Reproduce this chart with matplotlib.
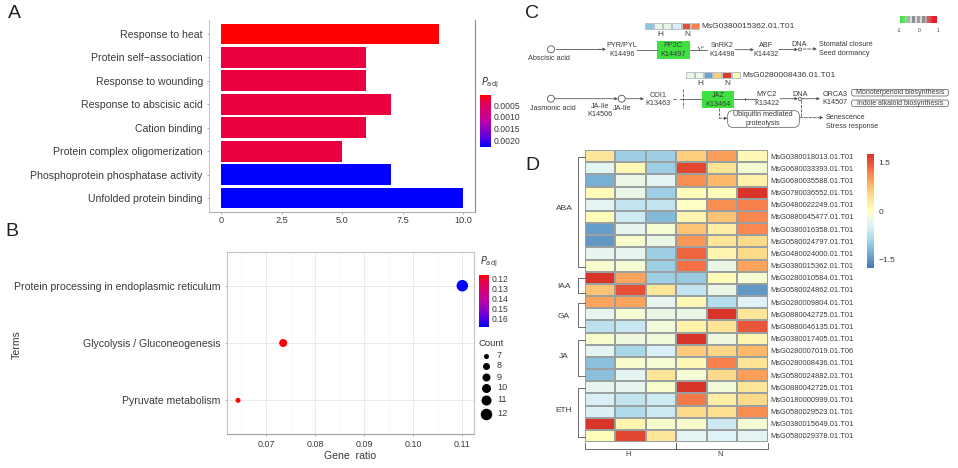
import numpy as np
import matplotlib
matplotlib.use('Agg')
import matplotlib.pyplot as plt
from matplotlib.colors import LinearSegmentedColormap, Normalize, ListedColormap
from matplotlib.cm import ScalarMappable
from matplotlib.patches import Rectangle, FancyBboxPatch, Circle

plt.rcParams['font.family'] = ['Liberation Sans', 'DejaVu Sans']

#############
# Data
#############
# Panel A
terms_a = ['Unfolded protein binding', 'Phosphoprotein phosphatase activity',
           'Protein complex oligomerization', 'Cation binding',
           'Response to abscisic acid', 'Response to wounding',
           'Protein self\u2212association', 'Response to heat']
counts_a = [10, 7, 5, 6, 7, 6, 6, 9]
padj_a = [0.0023, 0.0023, 0.0003, 0.0003, 0.0003, 0.0003, 0.0003, 0.00007]
ticks_a = [0, 2.5, 5.0, 7.5, 10.0]
ticklabels_a = ['0', '2.5', '5.0', '7.5', '10.0']
cbar_ticks_a = [0.0005, 0.0010, 0.0015, 0.0020]

# Panel B
terms_b = ['Pyruvate metabolism', 'Glycolysis / Gluconeogenesis',
           'Protein processing in endoplasmic reticulum']
ratio_b = [0.0643, 0.0735, 0.1100]
padj_b = [0.117, 0.117, 0.168]
dots_b = [5, 8, 11.5]
ticks_b = [0.07, 0.08, 0.09, 0.10, 0.11]
cbar_ticks_b = [0.12, 0.13, 0.14, 0.15, 0.16]
legend_counts = [7, 8, 9, 10, 11, 12]
legend_dots = [5, 7, 8, 9, 10, 11.5]

# Panel C
strip_abscisic = [-1.1, -0.3, -0.3, -0.5, 1.55, 1.2]
strip_jasmonic = [-0.3, -0.3, -1.4, 0.6, 1.7, 0.1]
kegg_legend = ['#3fe03f', '#5fe05f', '#8fdc8f', '#b0b0b0', '#d8d8d8', '#909090',
               '#d8d8d8', '#a0a0a0', '#d8d8d8', '#909090', '#d8a0a0', '#c06060',
               '#e04040', '#e81c2c', '#e81c2c']

# Panel D
genes = ['MsG0380018013.01.T01', 'MsG0680033393.01.T01', 'MsG0680035588.01.T01',
         'MsG0780036552.01.T01', 'MsG0480022249.01.T01', 'MsG0880045477.01.T01',
         'MsG0380016358.01.T01', 'MsG0580024797.01.T01', 'MsG0480024000.01.T01',
         'MsG0380015362.01.T01', 'MsG0280010584.01.T01', 'MsG0580024862.01.T01',
         'MsG0280009804.01.T01', 'MsG0880042725.01.T01', 'MsG0880046135.01.T01',
         'MsG0380017405.01.T01', 'MsG0280007019.01.T06', 'MsG0280008436.01.T01',
         'MsG0580024882.01.T01', 'MsG0880042725.01.T01', 'MsG0180000999.01.T01',
         'MsG0580029523.01.T01', 'MsG0380015649.01.T01', 'MsG0580029378.01.T01']
expr = [[0.35, -1.0, -1.0, 0.6, 1.0, 0.1],
        [-0.4, 0.1, -1.0, 1.6, 0.4, -0.15],
        [-1.3, -0.3, -0.4, 1.1, 0.8, 0.2],
        [0.05, -0.3, -1.0, 0.05, 0.05, 1.75],
        [-0.4, -0.7, -0.7, -0.05, 1.1, 1.2],
        [0.05, -0.6, -1.2, 0.15, 0.7, 1.15],
        [-1.45, -0.35, -0.15, 0.7, 0.25, 1.15],
        [-1.5, -0.1, -0.3, 1.05, 0.35, 0.5],
        [-0.35, -0.35, -1.0, 1.4, 0.15, 0.5],
        [-0.1, -0.15, -1.0, 1.3, -0.3, 0.95],
        [1.75, 0.95, -1.0, -1.05, 0.05, -0.15],
        [0.7, 1.55, 0.35, -0.7, -0.3, -1.5],
        [0.95, 0.95, -0.35, 0.1, -0.8, -0.45],
        [-0.35, -0.15, -0.3, -0.3, 1.75, 0.35],
        [-0.75, -0.65, -0.2, 0.2, 0.4, 1.5],
        [-0.1, -0.25, -0.2, 1.75, -0.25, 0.15],
        [-0.4, -0.9, -0.5, 0.65, 0.55, 0.8],
        [-1.15, -0.1, -0.15, 0.1, 1.2, 0.4],
        [-1.15, -0.4, 0.35, -0.15, 0.5, 1.0],
        [-0.35, -0.35, -0.1, 1.75, -0.2, 0.35],
        [-0.5, -0.7, -0.6, 1.25, 0.25, 0.5],
        [-0.5, -0.85, -0.6, 0.5, 0.45, 1.1],
        [1.75, 0.15, -0.1, -0.1, -0.6, -0.15],
        [0.05, 1.6, 0.35, -0.4, -0.45, -0.4]]
# hormone groups: label, first px, last px, label y px
groups = [('ABA', 157, 267, 208), ('IAA', 278, 293, 286), ('GA', 303, 327, 316),
          ('JA', 340, 376, 357), ('ETH', 388, 437, 411)]

#############
# Helpers
#############
W, H = 958, 468
TXT = '#3a3a3a'
GREY = '#8a8a8a'

fig = plt.figure(figsize=(W / 100, H / 100), dpi=100)


def axes_px(left, top, right, bottom, **kw):
    # axes placed with picture pixel coordinates
    return fig.add_axes([left / W, 1 - bottom / H, (right - left) / W, (bottom - top) / H], **kw)


padj_cmap = LinearSegmentedColormap.from_list(
    'padj', [(0, '#ff0000'), (0.12, '#e8004a'), (0.5, '#c000a8'), (0.8, '#6000e0'), (1, '#0000ff')])
heat_cmap = LinearSegmentedColormap.from_list(
    'heat', ['#4575b4', '#74add1', '#abd9e9', '#e0f3f8', '#ffffbf',
             '#fee090', '#fdae61', '#f46d43', '#d73027'])
heat_norm = Normalize(-1.78, 1.78)

# whole picture overlay for panel letters and the pathway diagram
over = axes_px(0, 0, W, H)
over.set_xlim(0, W)
over.set_ylim(H, 0)
over.axis('off')
over.set_zorder(5)
over.patch.set_alpha(0)

for letter, x, y in [('A', 14, 14), ('B', 12, 232), ('C', 532, 13), ('D', 532, 165)]:
    over.text(x, y, letter, fontsize=14, color='#222222', ha='center', va='center')


def padj_colorbar(left, top, right, bottom, vmin, vmax, ticks, fmt, title_y):
    cax = axes_px(left, top, right, bottom)
    sm = ScalarMappable(norm=Normalize(vmin, vmax), cmap=padj_cmap)
    cb = fig.colorbar(sm, cax=cax, ticks=ticks)
    cb.ax.invert_yaxis()
    cb.ax.set_yticklabels([fmt % t for t in ticks], fontsize=6.2, color=TXT)
    cb.ax.tick_params(length=0, pad=2)
    cb.outline.set_visible(False)
    over.text(left + 1, title_y, '$\\mathit{P}_{\\mathrm{adj}}$', fontsize=7, color=TXT,
              ha='left', va='center')


#############
# Panel A
#############
ax_a = axes_px(209, 20, 475, 212)
y_a = np.arange(len(terms_a))
ax_a.barh(y_a, counts_a, height=0.89, color=padj_cmap(Normalize(0.00007, 0.0023)(padj_a)))
ax_a.set_xlim(-0.517, 10.49)
ax_a.set_ylim(-0.6, 7.6)
ax_a.set_yticks(y_a)
ax_a.set_yticklabels(terms_a, fontsize=7.6, color=TXT)
ax_a.set_xticks(ticks_a)
ax_a.set_xticklabels(ticklabels_a, fontsize=6.6, color=TXT)
ax_a.tick_params(axis='y', length=1.5, width=0.5, color=GREY, pad=3)
ax_a.tick_params(axis='x', length=1.5, width=0.5, color=GREY, pad=1.5)
ax_a.spines['top'].set_visible(False)
for side, col in [('left', '#c8c8c8'), ('bottom', '#b0b0b0'), ('right', '#8a8a8a')]:
    ax_a.spines[side].set_color(col)
padj_colorbar(480, 95, 491, 147, 0.00007, 0.0023, cbar_ticks_a, '%.4f', 83)

#############
# Panel B
#############
ax_b = axes_px(227, 252, 474, 434)
ax_b.scatter(ratio_b, range(3), s=(np.array(dots_b) * 0.72) ** 2,
             c=padj_b, cmap=padj_cmap, vmin=0.117, vmax=0.168, linewidths=0, zorder=3)
ax_b.set_xlim(0.06205, 0.11238)
ax_b.set_ylim(-0.588, 2.588)
ax_b.set_yticks(range(3))
ax_b.set_yticklabels(terms_b, fontsize=7.6, color=TXT)
ax_b.set_xticks(ticks_b)
ax_b.set_xticklabels(['%.2f' % t for t in ticks_b], fontsize=6.4, color=TXT)
ax_b.set_xticks([0.065, 0.075, 0.085, 0.095, 0.105], minor=True)
ax_b.grid(which='major', color='#e6e6e6', lw=0.6)
ax_b.grid(which='minor', axis='x', color='#f0f0f0', lw=0.4)
ax_b.set_axisbelow(True)
ax_b.tick_params(axis='y', which='major', length=1.5, width=0.5, color=GREY, pad=3)
ax_b.tick_params(axis='x', which='major', length=1.5, width=0.5, color=GREY, pad=3)
ax_b.tick_params(which='minor', length=0)
for s in ax_b.spines.values():
    s.set_color('#c4c4c4')
ax_b.spines['bottom'].set_color('#a0a0a0')
ax_b.set_xlabel('Gene  ratio', fontsize=7.6, color=TXT, labelpad=1.5)
over.text(17, 345, 'Terms', rotation=90, fontsize=7.6, color=TXT, ha='center', va='center')
padj_colorbar(479, 275, 489, 327, 0.117, 0.168, cbar_ticks_b, '%.2f', 262)

over.text(479, 343, 'Count', fontsize=6.8, color=TXT, ha='left', va='center')
for c, d, y in zip(legend_counts, legend_dots, [356, 366, 377, 388, 400, 414]):
    over.plot([486], [y], 'o', ms=d * 0.72, color='black', mew=0)
    over.text(497, y, str(c), fontsize=6.6, color=TXT, ha='left', va='center')

#############
# Panel C
#############
LINE = '#555555'


def strip(left, top, right, bottom, vals, label, h_x, n_x):
    ax = axes_px(left, top, right, bottom)
    ax.pcolormesh([vals], cmap=heat_cmap, norm=heat_norm, edgecolors='#b8c4c8', linewidth=0.3)
    ax.axis('off')
    over.text(right + 1.5, (top + bottom) / 2, label, fontsize=6, color=TXT, va='center')
    over.text(h_x, bottom + 4.5, 'H', fontsize=6, color=TXT, ha='center', va='center')
    over.text(n_x, bottom + 4.5, 'N', fontsize=6, color=TXT, ha='center', va='center')


def label(x, y, s, ha='center', size=5.2):
    over.text(x, y, s, fontsize=size, color=TXT, ha=ha, va='center', zorder=6)


def arrow(x0, y0, x1, y1, dashed=False):
    over.annotate('', xy=(x1, y1), xytext=(x0, y0),
                  arrowprops=dict(arrowstyle='-|>', lw=0.6, color=LINE, mutation_scale=4,
                                  shrinkA=0, shrinkB=0, ls='--' if dashed else '-'))


def line(xs, ys, dashed=False):
    over.plot(xs, ys, color=LINE, lw=0.6, ls='--' if dashed else '-')


def node(x, y, r):
    over.add_patch(Circle((x, y), r, fc='white', ec=LINE, lw=0.6, zorder=4))


def green_box(left, top, right, bottom, a, b):
    over.add_patch(Rectangle((left, top), right - left, bottom - top, fc='#3fe03f', ec='none'))
    label((left + right) / 2, top + 4.5, a)
    label((left + right) / 2, top + 13.5, b)


def round_box(left, top, right, bottom, pad=2):
    over.add_patch(FancyBboxPatch((left + pad, top + pad), right - left - 2 * pad, bottom - top - 2 * pad,
                                  boxstyle='round,pad=%g' % pad, fc='white', ec=LINE, lw=0.5, zorder=3))


strip(645, 22.7, 700, 30, strip_abscisic, 'MsG0380015362.01.T01', 660, 687)
strip(685.7, 72, 740.7, 79.3, strip_jasmonic, 'MsG0280008436.01.T01', 700, 727)

# abscisic acid row
line([556, 600], [49.3, 49.3])
arrow(598, 49.3, 606, 49.3)
node(551, 49.3, 3.5)
label(549, 58.7, 'Abscisic acid')
label(622, 45.3, 'PYR/PYL')
label(622, 54, 'K14496')
line([637, 657], [50, 50])
green_box(656.7, 41, 690, 59, 'PP2C', 'K14497')
line([690, 707], [50, 50])
line([698, 700], [47, 50])
label(702, 46.8, '+p', size=3)
label(722, 45.3, 'SnRK2')
label(722, 54, 'K14498')
arrow(735, 49.7, 754, 49.7)
label(766, 45.3, 'ABF')
label(766, 54, 'K14432')
arrow(779, 49.5, 798, 49.5)
node(800, 49.5, 1.5)
label(799.3, 44, 'DNA')
arrow(803, 49, 817, 49, dashed=True)
label(819, 45, 'Stomatal closure', ha='left')
label(819, 53.5, 'Seed dormancy', ha='left')

# jasmonic acid row
arrow(555, 98.7, 618, 98.7)
node(551, 98.7, 3.5)
node(621.7, 98.7, 3.5)
label(552.7, 108.3, 'Jasmonic acid')
label(600, 106, 'JA-Ile')
label(600, 114.3, 'K14506')
label(622, 108.3, 'JA-Ile')
arrow(625, 98.7, 644, 98.7)
label(657.7, 95.7, 'COI1')
label(657.7, 103.7, 'K13463')
line([683.3, 683.3], [89, 108], dashed=True)
line([680, 702], [99, 99])
line([673, 678], [99, 99], dashed=True)
green_box(702.3, 90.7, 734.3, 107.7, 'JAZ', 'K13464')
line([734, 757], [98.7, 98.7])
line([745, 745], [97.7, 99.7])
label(767, 94.7, 'MYC2')
label(767, 103.7, 'K13422')
arrow(780, 98.7, 798, 98.7)
node(800, 99, 1.5)
arrow(802, 98.7, 820, 98.7)
label(800, 94.7, 'DNA')
label(835, 94.7, 'ORCA3')
label(835, 103, 'K14507')
round_box(851.7, 89.3, 948.3, 96)
label(900, 92.7, 'Monoterpenoid biosynthesis', size=5)
round_box(851.7, 100, 948.3, 106.7)
label(900, 103.4, 'Indole alkaloid biosynthesis', size=5)
round_box(727.7, 110.7, 799.3, 127.3, pad=5)
label(763.3, 114.7, 'Ubiquitin mediated')
label(763.3, 123.3, 'proteolysis')
line([719, 719], [107.7, 118.3], dashed=True)
arrow(719, 118.3, 727.5, 118.3, dashed=True)
line([800.7, 800.7], [100, 117], dashed=True)
arrow(800, 117.7, 823.3, 117.7, dashed=True)
label(825.7, 117.7, 'Senescence', ha='left')
label(825.7, 126, 'Stress response', ha='left')

# KEGG colour key
ax_key = axes_px(900, 15.7, 937, 23.3)
ax_key.pcolormesh([np.arange(len(kegg_legend))], cmap=ListedColormap(kegg_legend))
ax_key.axis('off')
for s, x in [('-1', 899), ('0', 919), ('1', 938)]:
    label(x, 31, s, size=3.6)

#############
# Panel D
#############
ax_d = axes_px(585, 150, 767.7, 442)
ax_d.pcolormesh(np.array(expr), cmap=heat_cmap, norm=heat_norm,
                edgecolors='#9aa0a0', linewidth=0.35)
ax_d.set_ylim(len(genes), 0)
ax_d.set_xticks([])
ax_d.yaxis.tick_right()
ax_d.set_yticks(np.arange(len(genes)) + 0.5)
ax_d.set_yticklabels(genes, fontsize=5.4, color=TXT)
ax_d.tick_params(length=0, pad=2)
for s in ax_d.spines.values():
    s.set_visible(False)

for name, y0, y1, ly in groups:
    line([585, 578, 578, 585], [y0, y0, y1, y1])
    over.text(564, ly, name, fontsize=6, color=TXT, ha='center', va='center')

# H / N brackets under the heatmap
line([585, 585, 676, 676, 676], [443, 449, 449, 443, 449])
line([676, 767.7, 767.7], [449, 449, 443])
over.text(628, 455, 'H', fontsize=5.4, color=TXT, ha='center', va='center')
over.text(720, 455, 'N', fontsize=5.4, color=TXT, ha='center', va='center')

cax_d = axes_px(867, 154, 874, 268)
cb_d = fig.colorbar(ScalarMappable(norm=heat_norm, cmap=heat_cmap), cax=cax_d, ticks=[-1.5, 0, 1.5])
cb_d.ax.set_yticklabels(['\u22121.5', '0', '1.5'], fontsize=6, color=TXT)
cb_d.ax.tick_params(length=0, pad=3)
cb_d.outline.set_visible(False)

fig.savefig('out.png', dpi=100)
